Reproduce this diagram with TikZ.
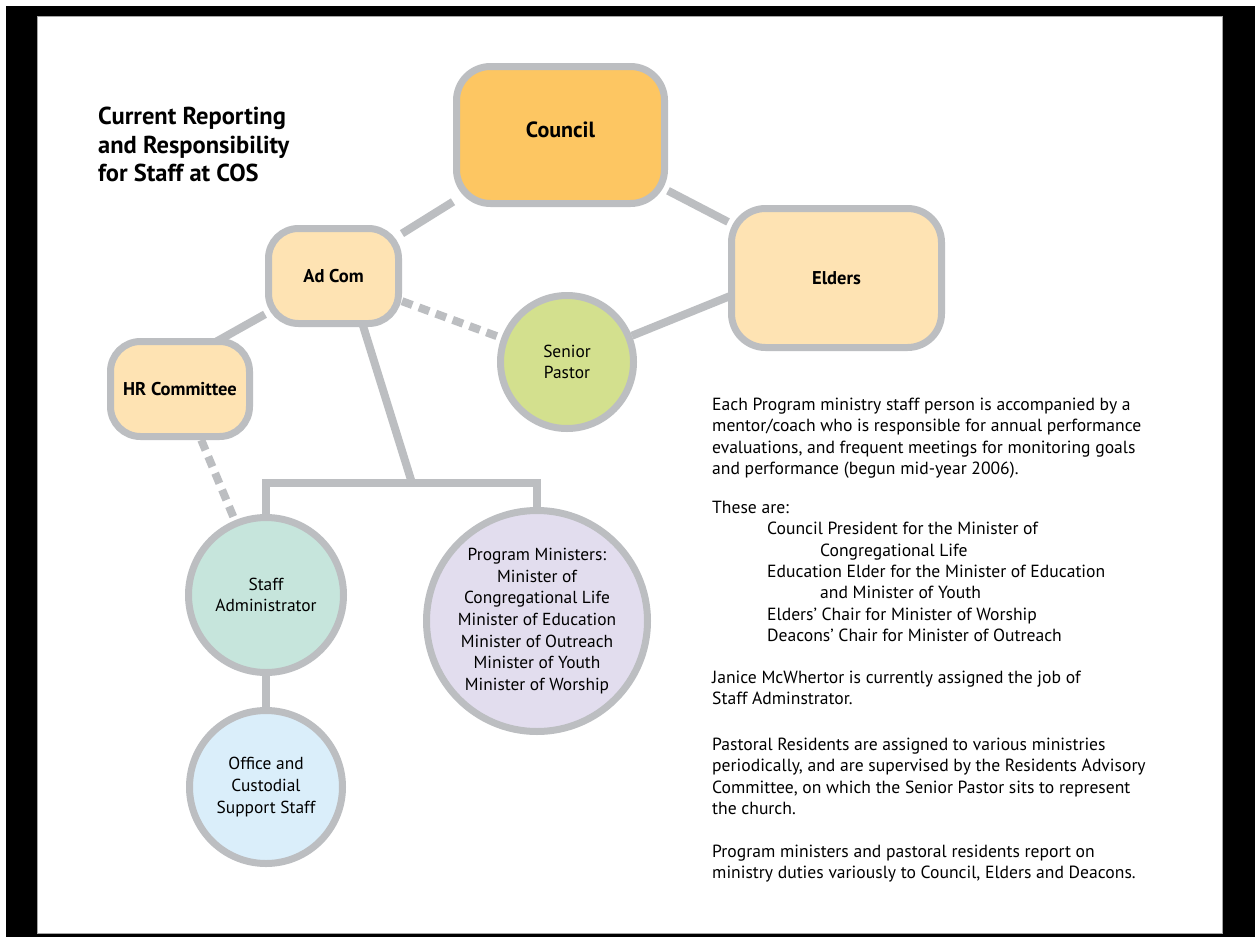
\documentclass[tikz,border=0pt]{standalone}
\usepackage{fontspec}
\setmainfont{PT Sans}
\usetikzlibrary{positioning,backgrounds}
\definecolor{framegray}{HTML}{BCBEC1}
\definecolor{councilorange}{HTML}{FDC662}
\definecolor{lightorange}{HTML}{FEE3B3}
\definecolor{pastorgreen}{HTML}{D3E08E}
\definecolor{staffteal}{HTML}{C6E5DC}
\definecolor{officeblue}{HTML}{DAEEFA}
\definecolor{programlilac}{HTML}{E2DDEE}
\tikzset{
  box/.style={draw=framegray, line width=7pt, rounded corners=34pt, inner sep=0pt,
    font=\bfseries\fontsize{18.5}{22}\selectfont},
  disc/.style={circle, draw=framegray, line width=7pt, align=center, inner sep=0pt,
    font=\fontsize{17.4}{21.6}\selectfont},
  link/.style={draw=framegray, line width=8pt},
  dashlink/.style={link, dash pattern=on 11pt off 7pt},
  note/.style={anchor=north west, align=left, inner sep=0pt,
    font=\fontsize{17.6}{21.3}\selectfont}
}

\begin{document}
\begin{tikzpicture}[x=1pt,y=-1pt]
    \useasboundingbox (0,0) rectangle (1255,937);
    % title
    \node[anchor=north west, align=left, inner sep=0pt,
      font=\bfseries\fontsize{24.5}{28.5}\selectfont] (title) at (98,107)
      {Current Reporting\\and Responsibility\\for Staff at COS};
    % boards and committees
    \node[box, fill=councilorange, minimum width=208pt, minimum height=137pt,
      font=\bfseries\fontsize{22}{24}\selectfont] (council) at (560.5,135) {\raisebox{11pt}{Council}};
    \node[box, fill=lightorange, minimum width=210pt, minimum height=139pt] (elders) at (836.5,278) {Elders};
    \node[box, fill=lightorange, minimum width=130pt, minimum height=95pt, rounded corners=30pt] (adcom) at (333.5,276) {Ad Com};
    \node[box, fill=lightorange, minimum width=139pt, minimum height=95pt, rounded corners=30pt] (hr) at (180,389) {HR Committee};
    % staff
    \node[disc, fill=pastorgreen, minimum size=133pt] (pastor) at (567,362) {Senior\\Pastor};
    \node[disc, fill=staffteal, minimum size=155pt] (staff) at (266,595) {Staff\\Administrator};
    \node[disc, fill=officeblue, minimum size=153pt] (office) at (266,787) {Office and\\Custodial\\Support Staff};
    \node[disc, fill=programlilac, minimum size=221pt] (program) at (537,621)
      {Program Ministers:\\Minister of\\Congregational Life\\Minister of Education\\Minister of Outreach\\Minister of Youth\\Minister of Worship};
    \coordinate (bus) at (412,483);
    % notes
    \node[note] (mentors) at (712,398) {Each Program ministry staff person is accompanied by a\\mentor/coach who is responsible for annual performance\\evaluations, and frequent meetings for monitoring goals\\and performance (begun mid-year 2006).};
    \node[note] (these) at (712,501) {These are:\\
      \hspace*{55pt}Council President for the Minister of\\
      \hspace*{108pt}Congregational Life\\
      \hspace*{55pt}Education Elder for the Minister of Education\\
      \hspace*{108pt}and Minister of Youth\\
      \hspace*{55pt}Elders' Chair for Minister of Worship\\
      \hspace*{55pt}Deacons' Chair for Minister of Outreach};
    \node[note] (janice) at (712,671) {Janice McWhertor is currently assigned the job of\\Staff Adminstrator.};
    \node[note] (residents) at (712,738) {Pastoral Residents are assigned to various ministries\\periodically, and are supervised by the Residents Advisory\\Committee, on which the Senior Pastor sits to represent\\the church.};
    \node[note] (duties) at (712,845) {Program ministers and pastoral residents report on\\ministry duties variously to Council, Elders and Deacons.};
    \begin{pgfonlayer}{background}
        % page frame
        \fill[black] (6,6) rectangle (1255,937);
        \filldraw[fill=white, draw=gray!70, line width=0.8pt] (37,16) rectangle (1222,933);
        % reporting lines
        \draw[link] (council) -- (adcom);
        \draw[link] (council) -- (elders);
        \draw[link] ([yshift=25pt]elders.center) -- (pastor);
        \draw[dashlink] (adcom) -- (pastor);
        \draw[link] (adcom) -- ([yshift=27pt]hr.center);
        \draw[dashlink] (hr) -- (staff);
        \draw[link] ([xshift=14pt]adcom.center) -- (bus);
        \draw[link] (staff) |- (bus) -| (program);
        \draw[link] (staff) -- (office);
    \end{pgfonlayer}
\end{tikzpicture}
\end{document}
